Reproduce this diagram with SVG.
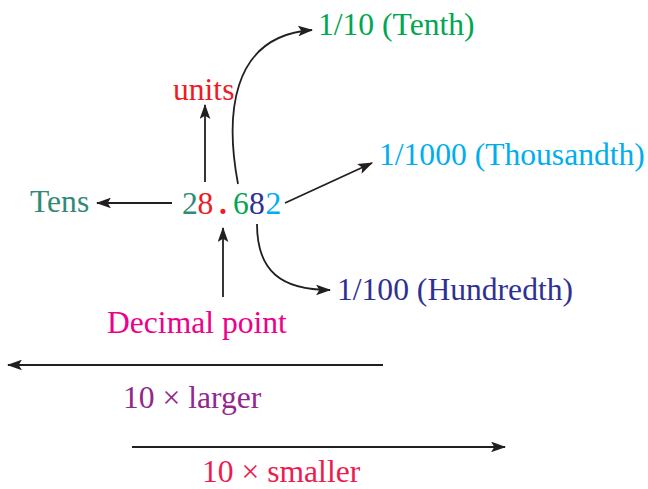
<svg xmlns="http://www.w3.org/2000/svg" width="648" height="489" viewBox="0 0 648 489">
<style>
text{font-family:"Liberation Serif","Times New Roman",serif;font-size:31.6px}
.c{fill:none;stroke:#231f20;stroke-width:1.8;marker-end:url(#ah)}
</style>
<defs>
<marker id="ah" viewBox="0 0 14 10" refX="13" refY="5" markerWidth="15" markerHeight="11" markerUnits="userSpaceOnUse" orient="auto">
<path d="M0,0 L14,5 L0,10 L3,5 z" fill="#231f20"/>
</marker>
</defs>
<rect width="648" height="489" fill="#fff"/>
<g id="connectors">
<path class="c" d="M172,203 L97,203"/>
<path class="c" d="M205,182 L205,105"/>
<path class="c" d="M238,184 C226,120 228,36 312,30"/>
<path class="c" d="M285,203 L372,163"/>
<path class="c" d="M257,224 C257,272 282,290 330,290"/>
<path class="c" d="M223,297 L223,228"/>
<path class="c" d="M383,365 L8,365"/>
<path class="c" d="M132,447 L505,447"/>
</g>
<g id="number">
<text x="182" y="214" fill="#2f8a78">2</text>
<text x="197.5" y="214" fill="#ed1c24">8</text>
<text x="219" y="214" fill="#ed1c24" font-weight="bold">.</text>
<text x="233" y="214" fill="#00a651">6</text>
<text x="249" y="214" fill="#2e3192">8</text>
<text x="265.5" y="214" fill="#00aeef">2</text>
</g>
<g id="tens"><text x="30" y="212" fill="#2f8a78">Tens</text></g>
<g id="units"><text x="173" y="100" fill="#ed1c24">units</text></g>
<g id="tenth"><text x="318" y="35" fill="#00a651">1/10 (Tenth)</text></g>
<g id="thousandth"><text x="379" y="165" fill="#00aeef">1/1000 (Thousandth)</text></g>
<g id="hundredth"><text x="337" y="300" fill="#2e3192">1/100 (Hundredth)</text></g>
<g id="decimal"><text x="107" y="333" fill="#ec008c">Decimal point</text></g>
<g id="larger"><text x="123" y="408" fill="#92278f">10 × larger</text></g>
<g id="smaller"><text x="202" y="482" fill="#ed1c4f">10 × smaller</text></g>
</svg>
